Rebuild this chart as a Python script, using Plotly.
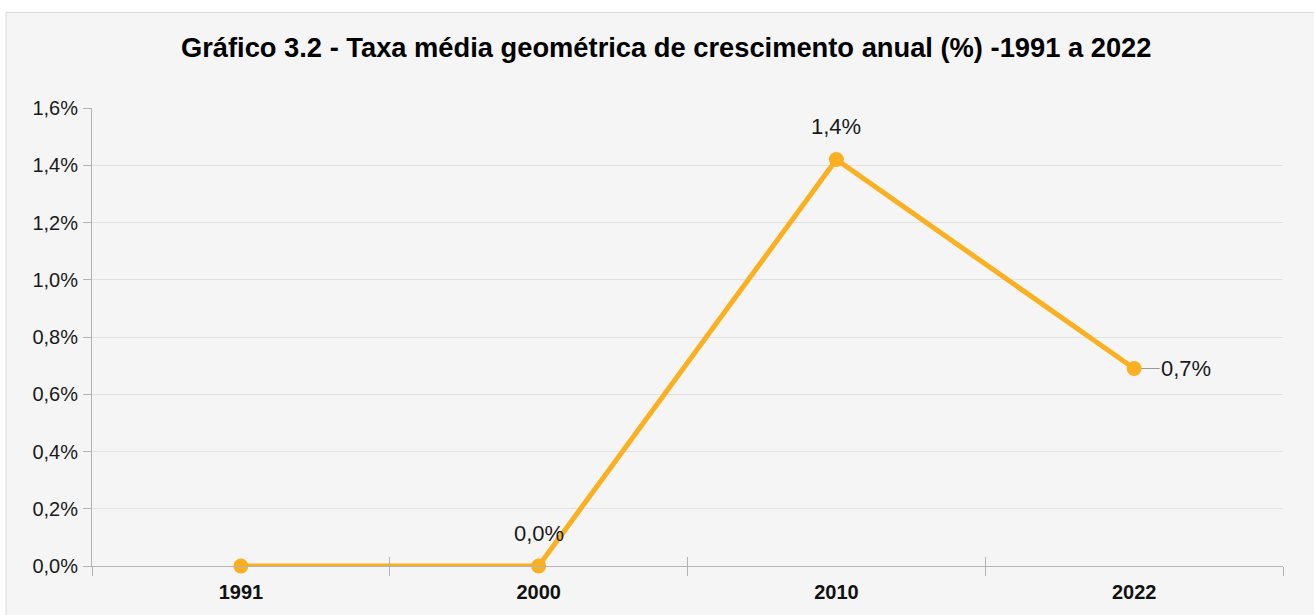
import plotly.graph_objects as go

# ---- data ----
years = ["1991", "2000", "2010", "2022"]
growth = [0.0, 0.0, 1.42, 0.69]           # taxa média geométrica (%)
point_labels = ["", "0,0%", "1,4%", "0,7%"]
label_side = ["top", "top", "top", "right"]
y_tick_vals = [0.0, 0.2, 0.4, 0.6, 0.8, 1.0, 1.2, 1.4, 1.6]
y_tick_text = ["0,0%", "0,2%", "0,4%", "0,6%", "0,8%", "1,0%", "1,2%", "1,4%", "1,6%"]
title_text = "Gráfico 3.2 - Taxa média geométrica de crescimento anual (%) -1991 a 2022"

# ---- layout geometry (pixels) ----
W, H = 1314, 615
L, R, T, B = 92, 31, 108, 47
pw, ph = W - L - R, H - T - B

def px_x(p):
    return (p - L) / pw

def px_y(p):
    return (H - B - p) / ph

LINE = "#FBB021"
FONT = "Liberation Sans, Arial, sans-serif"
AXIS = "#b3b3b3"
GRID = "#e2e2e2"

fig = go.Figure()
fig.add_trace(go.Scatter(
    x=years, y=growth, mode="lines+markers",
    line=dict(color=LINE, width=5),
    marker=dict(color=LINE, size=15),
    cliponaxis=False,
    hoverinfo="skip", showlegend=False,
))
# invisible clone on overlay axis to draw the inward half of the boundary ticks
fig.add_trace(go.Scatter(
    x=years, y=growth, xaxis="x2", mode="markers",
    marker=dict(opacity=0), hoverinfo="skip", showlegend=False,
))

for i, (v, txt, side) in enumerate(zip(growth, point_labels, label_side)):
    if not txt:
        continue
    if side == "top":
        fig.add_annotation(
            x=i, y=v, xref="x", yref="y", text=txt, showarrow=False, yshift=33,
            font=dict(family=FONT, size=22, color="#1a1a1a"),
        )
    else:
        fig.add_annotation(
            x=i, y=v, xref="x", yref="y", text=txt, showarrow=True, ax=52, ay=0,
            arrowhead=0, arrowwidth=1.2, arrowcolor="#999999", standoff=7,
            font=dict(family=FONT, size=22, color="#1a1a1a"),
        )

fig.update_layout(
    width=W, height=H,
    margin=dict(l=L, r=R, t=T, b=B, pad=0),
    paper_bgcolor="white",
    plot_bgcolor="#f5f5f5",
    separators=",.",
    font=dict(family=FONT, size=20, color="#1a1a1a"),
    title=dict(
        text=f"<b>{title_text}</b>",
        font=dict(family=FONT, size=27.3, color="#000000"),
        xref="container", x=0.507, xanchor="center",
        yref="container", y=1 - 47 / H, yanchor="middle",
    ),
    xaxis=dict(
        type="category", range=[-0.5, len(years) - 0.5],
        tickson="boundaries", ticks="outside", ticklen=9, tickcolor=AXIS, tickwidth=1,
        showline=True, linecolor=AXIS, linewidth=1,
        showgrid=False, zeroline=False,
        tickfont=dict(family=FONT, size=20, color="#111111"),
        tickprefix="<b>", ticksuffix="</b>",
        ticklabelstandoff=8,
    ),
    xaxis2=dict(
        type="category", range=[-0.5, len(years) - 0.5], overlaying="x", anchor="y",
        side="bottom", tickson="boundaries", ticks="inside", ticklen=9,
        tickcolor=AXIS, tickwidth=1, showticklabels=False,
        showline=False, showgrid=False, zeroline=False,
    ),
    yaxis=dict(
        range=[0, 1.6], tickvals=y_tick_vals, ticktext=y_tick_text,
        ticks="outside", ticklen=8, tickcolor=AXIS, tickwidth=1,
        showline=True, linecolor=AXIS, linewidth=1,
        showgrid=True, gridcolor=GRID, gridwidth=1, zeroline=False,
        tickfont=dict(family=FONT, size=20, color="#1a1a1a"),
        ticklabelstandoff=1,
    ),
    shapes=[dict(
        type="rect", xref="paper", yref="paper", layer="below",
        x0=px_x(6), y0=px_y(H + 10), x1=px_x(W + 10), y1=px_y(12),
        fillcolor="#f5f5f5", line=dict(color="#d9d9d9", width=1),
    )],
)

fig.write_html(
    "out.html",
    config={"displayModeBar": False},
    post_script="document.body.style.margin='0';document.body.style.overflow='hidden';",
)
